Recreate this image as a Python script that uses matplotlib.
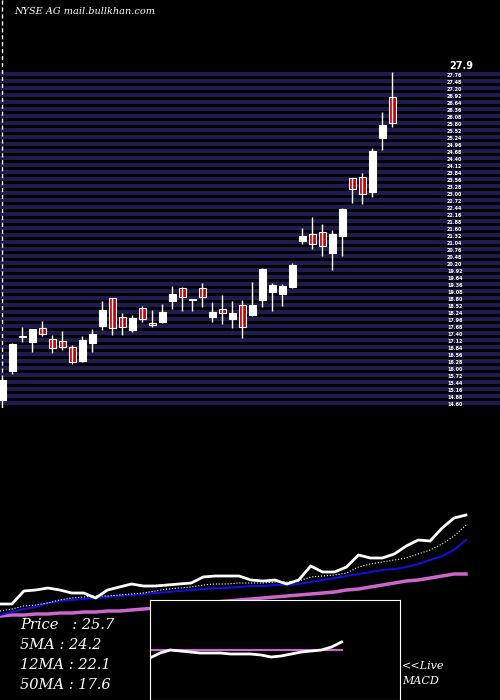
import numpy as np
import matplotlib.pyplot as plt

# candles
opens  = [14.78, 15.94, 17.34, 17.10, 17.66, 17.22, 17.14, 16.90, 16.34, 17.06,
          17.74, 18.86, 18.10, 17.58, 18.46, 17.86, 17.90, 18.74, 19.26, 18.78,
          19.26, 18.10, 18.42, 18.02, 18.58, 18.18, 18.78, 19.10, 19.02, 19.30,
          21.14, 21.42, 21.50, 20.66, 21.34, 23.66, 23.70, 23.10, 25.26, 26.90]
closes = [15.58, 17.02, 17.30, 17.62, 17.42, 16.86, 16.90, 16.30, 17.18, 17.42,
          18.38, 17.66, 17.70, 18.06, 18.02, 17.78, 18.30, 19.02, 18.90, 18.78,
          18.90, 18.30, 18.26, 18.26, 17.70, 18.58, 20.02, 19.38, 19.34, 20.18,
          21.34, 21.02, 20.94, 21.42, 22.42, 23.22, 23.02, 24.74, 25.78, 25.86]
highs  = [15.66, 17.06, 17.70, 17.62, 17.94, 17.38, 17.54, 16.98, 17.34, 17.62,
          18.74, 18.86, 18.26, 18.18, 18.54, 18.38, 18.62, 19.34, 19.30, 18.82,
          19.46, 18.70, 18.98, 18.74, 18.78, 19.50, 20.06, 19.46, 19.42, 20.26,
          21.66, 22.10, 21.82, 21.58, 22.46, 23.66, 23.86, 24.86, 26.30, 27.90]
lows   = [14.38, 15.82, 17.10, 16.70, 17.34, 16.66, 16.78, 16.22, 16.30, 16.70,
          17.58, 17.38, 17.38, 17.50, 17.90, 17.70, 17.86, 18.42, 18.34, 18.34,
          18.50, 17.90, 17.82, 17.66, 17.26, 18.14, 18.50, 18.34, 18.54, 19.26,
          21.02, 20.82, 20.54, 19.98, 20.54, 22.66, 22.62, 22.90, 24.78, 25.70]

# moving average panel (relative levels)
price_line = [16, 16, 29, 30, 32, 30, 27, 27, 22, 30, 33, 36, 34, 34, 35, 36, 37, 43, 44, 44,
              44, 40, 39, 40, 36, 40, 54, 48, 48, 53, 65, 62, 62, 66, 74, 80, 79, 92, 102, 105]
ma5 = [9, 11, 14, 15, 17, 20, 22, 23, 24, 24, 25, 26, 27, 29, 31, 32, 33, 35, 36, 36,
       37, 37, 37, 38, 38, 39, 43, 44, 45, 47, 53, 56, 58, 60, 62, 66, 70, 76, 84, 95]
ma12 = [5, 8, 11, 13, 17, 19, 20, 21, 22, 23, 24, 25, 26, 27, 28, 29, 30, 31, 32, 32,
        33, 34, 34, 35, 35, 36, 38, 40, 42, 44, 46, 48, 50, 51, 53, 56, 60, 64, 70, 80]
ma50 = [4, 5, 5, 6, 6, 7, 7, 8, 8, 9, 9, 10, 11, 12, 13, 14, 15, 16, 18, 19,
        20, 21, 22, 23, 24, 25, 26, 27, 28, 30, 31, 33, 35, 37, 39, 40, 42, 44, 46, 46]

macd = [-8, -3, 0, -1, -2, -3, -3, -3, -4, -4, -4, -5, -7, -6, -4, -2, -1, 0, 3, 8]
signal = [0] * 20

stats = [("Price", "25.7"), ("5MA", "24.2"), ("12MA", "22.1"), ("50MA", "17.6")]

W, H = 500, 700
fig = plt.figure(figsize=(5, 7), dpi=100, facecolor="black")

def box(x0, y0, x1, y1):
    return [x0 / W, 1 - y1 / H, (x1 - x0) / W, (y1 - y0) / H]

# price panel
ax = fig.add_axes(box(0, 72, 500, 408))
ax.set_facecolor("black")
ymin, ymax = 14.46, 27.9
ax.set_ylim(ymin, ymax)
ax.set_xlim(-0.2, 49.8)
edges = np.linspace(ymin, ymax, 49)
for a, b in zip(edges[:-1], edges[1:]):
    ax.axhspan(a + (b - a) * 0.4, b, color="#1c1c50", lw=0)
    ax.text(44.5, (a + b) / 2, f"{(a + b) / 2:.2f}", color="white", fontsize=3.5,
            fontweight="bold", va="center")
ax.text(44.7, ymax + 0.05, "27.9", color="white", fontsize=7, fontweight="bold", va="bottom",
        clip_on=False)
for i in range(len(opens)):
    up = closes[i] >= opens[i]
    ax.vlines(i, lows[i], highs[i], color="white", lw=1)
    lo, hi = min(opens[i], closes[i]), max(opens[i], closes[i])
    ax.bar(i, max(hi - lo, 0.04), bottom=lo, width=0.7,
           color="white" if up else "#cc0000", edgecolor="white", lw=0.8)
ax.axis("off")

fig.add_artist(plt.Line2D([2 / W, 2 / W], [1 - 400 / H, 1], color="white", lw=1,
                          linestyle=(0, (3, 2))))
fig.text(14 / W, 1 - 12 / H, "NYSE AG mail.bullkhan.com", color="white", fontsize=7,
         family="DejaVu Serif", style="italic", va="center")

# moving average panel
ax2 = fig.add_axes(box(0, 500, 500, 620))
ax2.set_facecolor("black")
xs = np.linspace(0, 466, len(price_line))
ax2.plot(xs, ma50, color="#cc66cc", lw=2.5)
ax2.plot(xs, ma12, color="#1010dd", lw=1.5)
ax2.plot(xs, ma5, color="white", lw=0.8, linestyle=":")
ax2.plot(xs, price_line, color="white", lw=2)
ax2.set_xlim(0, 500)
ax2.set_ylim(0, 120)
ax2.axis("off")

# MACD inset
ax3 = fig.add_axes(box(150, 600, 400, 700))
ax3.set_facecolor("black")
mx = np.linspace(0, 12.8, len(macd))
ax3.plot(mx, signal, color="#cc66cc", lw=1.5)
ax3.plot(mx, macd, color="white", lw=2)
ax3.set_xlim(0, 16.7)
ax3.set_ylim(-50, 50)
ax3.set_xticks([])
ax3.set_yticks([])
for s in ax3.spines.values():
    s.set_color("white")

for k, (name, val) in enumerate(stats):
    label = f"{name}   : {val}" if name == "Price" else f"{name} : {val}"
    fig.text(20 / W, 1 - (625 + 20 * k) / H, label, color="white", fontsize=10.5,
             family="DejaVu Serif", style="italic", va="center")
fig.text(402 / W, 1 - 666 / H, "<<Live", color="white", fontsize=8,
         family="DejaVu Serif", style="italic", va="center")
fig.text(402 / W, 1 - 681 / H, "MACD", color="white", fontsize=8,
         family="DejaVu Serif", style="italic", va="center")

fig.savefig("out.png", dpi=100, facecolor="black")
